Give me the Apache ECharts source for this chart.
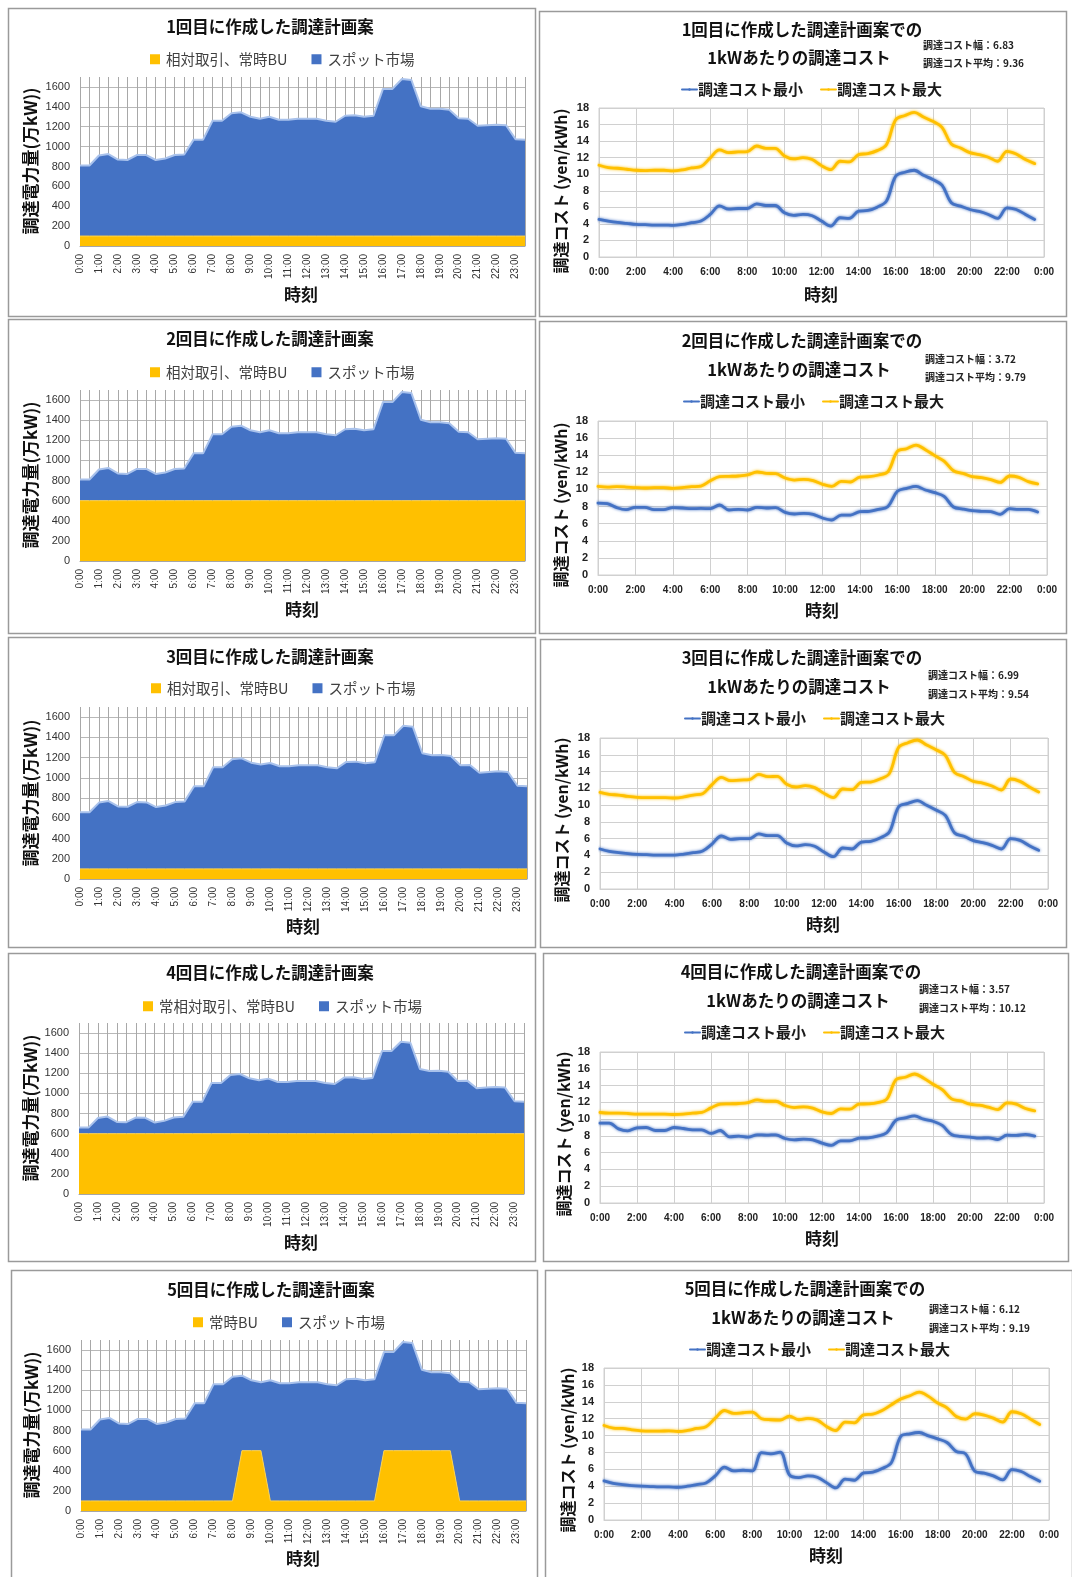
<!DOCTYPE html>
<html>
<head>
<meta charset="utf-8">
<script src="https://cdn.jsdelivr.net/npm/echarts@6/dist/echarts.min.js"></script>
<style>
  html, body { margin: 0; padding: 0; background: #ffffff; }
  #chart { width: 1072px; height: 1577px; }
</style>
</head>
<body>
<div id="chart"></div>
<script>
// ---- half-hourly time slots ----
const TIMES = ['0:00','0:30','1:00','1:30','2:00','2:30','3:00','3:30','4:00','4:30','5:00','5:30',
  '6:00','6:30','7:00','7:30','8:00','8:30','9:00','9:30','10:00','10:30','11:00','11:30',
  '12:00','12:30','13:00','13:30','14:00','14:30','15:00','15:30','16:00','16:30','17:00','17:30',
  '18:00','18:30','19:00','19:30','20:00','20:30','21:00','21:30','22:00','22:30','23:00','23:30'];
// hour positions of the same slots for the cost charts
const HOURS = [0,0.5,1,1.5,2,2.5,3,3.5,4,4.5,5,5.5,6,6.5,7,7.5,8,8.5,9,9.5,10,10.5,11,11.5,
  12,12.5,13,13.5,14,14.5,15,15.5,16,16.5,17,17.5,18,18.5,19,19.5,20,20.5,21,21.5,22,22.5,23,23.5];

// ---- procurement volume (万kW), total demand ----
const DEMAND_A = [810,810,910,925,870,865,915,915,865,880,915,920,1070,1070,1260,1260,1335,1345,1300,1280,1300,1270,1270,1280,
  1280,1280,1260,1250,1310,1315,1300,1310,1580,1580,1680,1670,1405,1380,1380,1370,1285,1280,1210,1215,1220,1215,1075,1070];
const DEMAND_B = [660,660,755,770,717,714,760,757,711,727,760,767,916,916,1104,1104,1183,1193,1150,1131,1147,1114,1114,1124,
  1124,1124,1104,1094,1157,1160,1144,1154,1421,1421,1514,1504,1243,1223,1226,1216,1124,1127,1051,1058,1064,1058,922,916];

// ---- fixed contracts / backup (万kW) ----
const BASE_100 = [100,100,100,100,100,100,100,100,100,100,100,100,100,100,100,100,100,100,100,100,100,100,100,100,
  100,100,100,100,100,100,100,100,100,100,100,100,100,100,100,100,100,100,100,100,100,100,100,100];
const BASE_600 = [600,600,600,600,600,600,600,600,600,600,600,600,600,600,600,600,600,600,600,600,600,600,600,600,
  600,600,600,600,600,600,600,600,600,600,600,600,600,600,600,600,600,600,600,600,600,600,600,600];
const BASE_5 = [100,100,100,100,100,100,100,100,100,100,100,100,100,100,100,100,100,600,600,600,100,100,100,100,
  100,100,100,100,100,100,100,100,600,600,600,600,600,600,600,600,100,100,100,100,100,100,100,100];

// ---- cost per kWh (yen/kWh) ----
const MIN_1 = [4.54,4.34,4.18,4.06,3.94,3.9,3.86,3.86,3.82,3.94,4.14,4.34,5.14,6.18,5.78,5.86,5.86,6.42,6.22,6.22,5.34,5.02,5.14,4.98,
  4.34,3.73,4.74,4.66,5.54,5.62,6.02,6.75,9.76,10.24,10.48,9.88,9.36,8.67,6.55,6.14,5.74,5.5,5.14,4.66,5.94,5.74,5.14,4.54];
const MAX_1 = [11.08,10.8,10.72,10.6,10.48,10.44,10.48,10.48,10.4,10.52,10.76,10.92,11.97,12.93,12.61,12.69,12.73,13.41,13.13,13.13,12.2,11.85,12.0,11.77,
  11.04,10.56,11.57,11.49,12.37,12.49,12.85,13.57,16.59,17.1,17.47,16.91,16.39,15.66,13.65,13.17,12.61,12.37,12.05,11.57,12.77,12.45,11.77,11.28];
const MIN_2 = [8.41,8.34,7.87,7.64,7.91,7.91,7.64,7.64,7.87,7.83,7.75,7.79,7.75,8.18,7.6,7.67,7.6,7.91,7.83,7.87,7.32,7.13,7.2,7.09,
  6.66,6.43,7.01,7.01,7.4,7.44,7.67,8.02,9.78,10.13,10.36,9.93,9.62,9.19,7.95,7.71,7.52,7.44,7.4,7.09,7.75,7.67,7.67,7.36];
const MAX_2 = [10.36,10.28,10.32,10.28,10.21,10.17,10.21,10.21,10.13,10.21,10.32,10.4,11.02,11.49,11.53,11.57,11.69,12.04,11.88,11.84,11.34,11.1,11.18,11.02,
  10.6,10.36,10.95,10.87,11.45,11.49,11.69,12.08,14.45,14.76,15.19,14.65,13.95,13.32,12.19,11.88,11.49,11.38,11.14,10.83,11.57,11.41,10.91,10.64];
const MIN_3 = [4.77,4.49,4.33,4.21,4.13,4.09,4.05,4.05,4.05,4.17,4.33,4.53,5.36,6.32,5.92,6.0,6.0,6.56,6.36,6.36,5.48,5.13,5.28,5.09,
  4.41,3.85,4.89,4.77,5.6,5.68,6.08,6.79,9.81,10.21,10.53,9.97,9.42,8.78,6.67,6.28,5.76,5.52,5.2,4.77,6.0,5.8,5.16,4.61];
const MAX_3 = [11.52,11.28,11.2,11.04,10.93,10.89,10.89,10.89,10.85,10.97,11.2,11.36,12.44,13.31,12.91,12.99,13.03,13.67,13.39,13.43,12.48,12.16,12.32,12.08,
  11.4,10.89,11.92,11.84,12.71,12.75,13.11,13.75,16.89,17.44,17.76,17.16,16.61,15.93,13.87,13.39,12.83,12.63,12.28,11.8,13.11,12.83,12.16,11.56];
const MIN_4 = [9.52,9.52,8.84,8.6,8.96,9.0,8.64,8.64,9.0,8.88,8.72,8.72,8.29,8.64,7.89,7.97,7.85,8.13,8.09,8.13,7.69,7.53,7.61,7.53,
  7.14,6.86,7.41,7.41,7.73,7.77,7.97,8.37,9.87,10.15,10.39,9.99,9.75,9.24,8.17,7.93,7.85,7.73,7.77,7.57,8.09,8.05,8.17,7.97];
const MAX_4 = [10.79,10.71,10.71,10.67,10.59,10.59,10.59,10.59,10.55,10.59,10.71,10.79,11.34,11.78,11.82,11.86,11.97,12.29,12.13,12.13,11.62,11.38,11.46,11.3,
  10.86,10.67,11.22,11.18,11.78,11.82,11.97,12.37,14.71,14.99,15.38,14.87,14.16,13.52,12.41,12.17,11.78,11.66,11.42,11.14,11.93,11.78,11.26,10.98];
const MIN_5 = [4.63,4.35,4.19,4.07,4.0,3.96,3.92,3.92,3.88,4.0,4.19,4.39,5.22,6.25,5.81,5.89,5.81,7.99,7.83,8.03,5.34,5.02,5.22,5.06,
  4.43,3.8,4.83,4.71,5.58,5.66,6.09,6.8,9.89,10.21,10.36,9.97,9.61,9.18,8.11,7.83,5.78,5.54,5.22,4.75,5.97,5.74,5.14,4.59];
const MAX_5 = [11.19,10.88,10.84,10.68,10.56,10.52,10.52,10.56,10.48,10.6,10.84,11.04,12.06,12.97,12.62,12.7,12.78,11.99,11.87,11.83,12.3,11.87,12.03,11.83,
  11.08,10.6,11.59,11.51,12.46,12.54,12.97,13.65,14.32,14.72,15.15,14.64,13.85,13.29,12.26,11.95,12.58,12.42,12.06,11.59,12.82,12.58,11.95,11.31];

// ---- summary figures shown beside the cost titles ----
const COST_RANGE = ['6.83','3.72','6.99','3.57','6.12'];
const COST_MEAN  = ['9.36','9.79','9.54','10.12','9.19'];

// ---- labels ----
const PLAN_TITLES = ['1回目に作成した調達計画案','2回目に作成した調達計画案','3回目に作成した調達計画案','4回目に作成した調達計画案','5回目に作成した調達計画案'];
const COST_TITLES = ['1回目に作成した調達計画案での','2回目に作成した調達計画案での','3回目に作成した調達計画案での','4回目に作成した調達計画案での','5回目に作成した調達計画案での'];
const BASE_NAMES = ['相対取引、常時BU','相対取引、常時BU','相対取引、常時BU','常相対取引、常時BU','常時BU'];
const SPOT_NAME = 'スポット市場';
const MIN_NAME = '調達コスト最小';
const MAX_NAME = '調達コスト最大';

const BLUE = '#4472C4', YELLOW = '#FFC000';
const JP = '"Noto Sans CJK JP", "Noto Sans", sans-serif';
const NUM = '"Liberation Sans", "Noto Sans", sans-serif';

// layout of the volume panels (left column)
const LEFT = [
  {box:[8,8,527,308],    grid:[80,77,445,169],   t:[270,27],   lg:[145,56],   yt:[31,161],   xt:[301,295],  base:BASE_100, total:DEMAND_A},
  {box:[8,319,527,314],  grid:[80,390,445,171],  t:[270,339],  lg:[145,369],  yt:[31,475],   xt:[302,610],  base:BASE_600, total:DEMAND_A},
  {box:[8,637,527,310],  grid:[80,707,447,172],  t:[270,657],  lg:[146,685],  yt:[31,793],   xt:[303,927],  base:BASE_100, total:DEMAND_B},
  {box:[8,953,527,308],  grid:[79,1023,445,171], t:[270,973],  lg:[138,1003], yt:[31,1108],  xt:[301,1243], base:BASE_600, total:DEMAND_B},
  {box:[11,1270,526,310],grid:[81,1340,445,171], t:[271,1290], lg:[188,1319], yt:[32,1425],  xt:[303,1559], base:BASE_5,   total:DEMAND_A}
];
// layout of the cost panels (right column)
const RIGHT = [
  {box:[539,11,527,305],  grid:[599,108,445,149],  t1:[802,30],   t2:[799,58],   lg:[676,87],   an:[923,45,63],     yt:[561,191],  xt:[821,295],  mn:MIN_1, mx:MAX_1},
  {box:[539,321,527,312], grid:[598,421,449,154],  t1:[802,341],  t2:[799,370],  lg:[678,399],  an:[925,359,377],   yt:[561,505],  xt:[822,611],  mn:MIN_2, mx:MAX_2},
  {box:[540,639,526,308], grid:[600,738,448,151],  t1:[802,658],  t2:[799,687],  lg:[679,716],  an:[928,675,694],   yt:[562,820],  xt:[823,925],  mn:MIN_3, mx:MAX_3},
  {box:[543,953,525,308], grid:[600,1052,444,151], t1:[801,972],  t2:[798,1001], lg:[679,1030], an:[919,989,1008],  yt:[564,1134], xt:[822,1239], mn:MIN_4, mx:MAX_4},
  {box:[545,1270,527,310],grid:[604,1368,445,152], t1:[805,1289], t2:[803,1318], lg:[684,1347], an:[929,1309,1328], yt:[568,1450], xt:[826,1556], mn:MIN_5, mx:MAX_5}
];

const grids = [], xAxes = [], yAxes = [], series = [], legends = [], graphics = [];

function txt(x, y, text, font, opts) {
  opts = opts || {};
  graphics.push({
    type: 'text', x: x, y: y, rotation: opts.rot || 0, silent: true, z: 10,
    style: { text: text, font: font, fill: opts.fill || '#111', align: opts.align || 'center', verticalAlign: 'middle' }
  });
}
function frame(b) {
  graphics.push({ type: 'rect', silent: true, z: 0,
    shape: { x: b[0] + 0.5, y: b[1] + 0.5, width: b[2], height: b[3] },
    style: { fill: 'none', stroke: '#9a9a9a', lineWidth: 1.5 } });
}

// volume panels: stacked areas of fixed supply and spot purchases
LEFT.forEach(function (p, i) {
  const gi = grids.length;
  grids.push({ left: p.grid[0], top: p.grid[1], width: p.grid[2], height: p.grid[3], containLabel: false });
  xAxes.push({
    gridIndex: gi, type: 'category', data: TIMES, boundaryGap: false,
    axisLine: { show: true, lineStyle: { color: '#a6a6a6' } },
    axisTick: { show: false },
    axisLabel: { interval: 1, rotate: 90, fontSize: 10, fontFamily: NUM, color: '#333', margin: 8 },
    splitLine: { show: true, interval: 0, lineStyle: { color: '#a8a8a8', width: 1 } }
  });
  yAxes.push({
    gridIndex: gi, type: 'value', min: 0, max: 1700, interval: 200,
    axisLine: { show: false }, axisTick: { show: false },
    axisLabel: { fontSize: 11, fontFamily: NUM, color: '#333', margin: 10, showMaxLabel: false,
      formatter: function (v) { return String(v); } },
    splitLine: { show: true, showMaxLine: false, lineStyle: { color: '#b8b8b8', width: 1 } }
  });
  const spot = p.total.map(function (v, k) { return v - p.base[k]; });
  series.push({
    type: 'line', name: BASE_NAMES[i], xAxisIndex: gi, yAxisIndex: gi, stack: 'vol' + i,
    data: p.base, symbol: 'none', silent: true,
    itemStyle: { color: YELLOW }, lineStyle: { width: 1, color: '#ffd34d' },
    areaStyle: { color: YELLOW, opacity: 1 }
  });
  series.push({
    type: 'line', name: SPOT_NAME, xAxisIndex: gi, yAxisIndex: gi, stack: 'vol' + i,
    data: spot, symbol: 'none', silent: true,
    itemStyle: { color: BLUE }, lineStyle: { width: 2, color: '#a9c2ec' },
    areaStyle: { color: BLUE, opacity: 1 }
  });
  legends.push({
    data: [BASE_NAMES[i], SPOT_NAME], left: p.lg[0], top: p.lg[1] - 9,
    icon: 'rect', itemWidth: 10, itemHeight: 10, itemGap: 24, selectedMode: false,
    textStyle: { fontSize: 14.5, fontFamily: JP, color: '#404040', padding: [0, 0, 0, 1] }
  });
  frame(p.box);
  txt(p.t[0], p.t[1], PLAN_TITLES[i], 'bold 16.5px ' + JP);
  txt(p.yt[0], p.yt[1], '調達電力量(万kW))', 'bold 17px ' + JP, { rot: Math.PI / 2 });
  txt(p.xt[0], p.xt[1], '時刻', 'bold 17px ' + JP);
});

// cost panels: min / max cost per kWh over the day
RIGHT.forEach(function (p, i) {
  const gi = grids.length;
  grids.push({ left: p.grid[0], top: p.grid[1], width: p.grid[2], height: p.grid[3],
    show: true, borderColor: '#d0d0d0', borderWidth: 1, containLabel: false });
  xAxes.push({
    gridIndex: gi, type: 'value', min: 0, max: 24, interval: 2,
    axisLine: { show: true, lineStyle: { color: '#d0d0d0' } }, axisTick: { show: false },
    axisLabel: { fontSize: 10, fontWeight: 'bold', fontFamily: NUM, color: '#222', margin: 10,
      formatter: function (v) { return (v % 24) + ':00'; } },
    splitLine: { show: true, lineStyle: { color: '#d0d0d0' } }
  });
  yAxes.push({
    gridIndex: gi, type: 'value', min: 0, max: 18, interval: 2,
    axisLine: { show: false }, axisTick: { show: false },
    axisLabel: { fontSize: 11, fontWeight: 'bold', fontFamily: NUM, color: '#222', margin: 10 },
    splitLine: { show: true, lineStyle: { color: '#d0d0d0' } }
  });
  const mk = function (name, vals, color) {
    return {
      type: 'line', name: name, xAxisIndex: gi, yAxisIndex: gi, smooth: 0.35, symbol: 'none', silent: true,
      data: HOURS.map(function (h, k) { return [h, vals[k]]; }),
      itemStyle: { color: color },
      lineStyle: { width: 2.8, color: color, shadowColor: color, shadowBlur: 3, cap: 'round' }
    };
  };
  series.push(mk(MIN_NAME, p.mn, BLUE));
  series.push(mk(MAX_NAME, p.mx, YELLOW));
  legends.push({
    data: [MIN_NAME, MAX_NAME], left: p.lg[0], top: p.lg[1] - 10,
    itemWidth: 15, itemHeight: 3, itemGap: 17, selectedMode: false,
    textStyle: { fontSize: 15, fontWeight: 'bold', fontFamily: JP, color: '#1a1a1a', padding: [0, 0, 0, -4] }
  });
  frame(p.box);
  txt(p.t1[0], p.t1[1], COST_TITLES[i], 'bold 16.5px ' + JP);
  txt(p.t2[0], p.t2[1], '1kWあたりの調達コスト', 'bold 16.5px ' + JP);
  txt(p.an[0], p.an[1], '調達コスト幅：' + COST_RANGE[i], 'bold 10px ' + JP, { align: 'left', fill: '#222' });
  txt(p.an[0], p.an[2], '調達コスト平均：' + COST_MEAN[i], 'bold 10px ' + JP, { align: 'left', fill: '#222' });
  txt(p.yt[0], p.yt[1], '調達コスト (yen/kWh)', 'bold 16px ' + JP, { rot: Math.PI / 2 });
  txt(p.xt[0], p.xt[1], '時刻', 'bold 17px ' + JP);
});

const chart = echarts.init(document.getElementById('chart'), null, { renderer: 'canvas' });
chart.setOption({
  animation: false,
  backgroundColor: '#ffffff',
  grid: grids,
  xAxis: xAxes,
  yAxis: yAxes,
  legend: legends,
  series: series,
  graphic: graphics
});
</script>
</body>
</html>
